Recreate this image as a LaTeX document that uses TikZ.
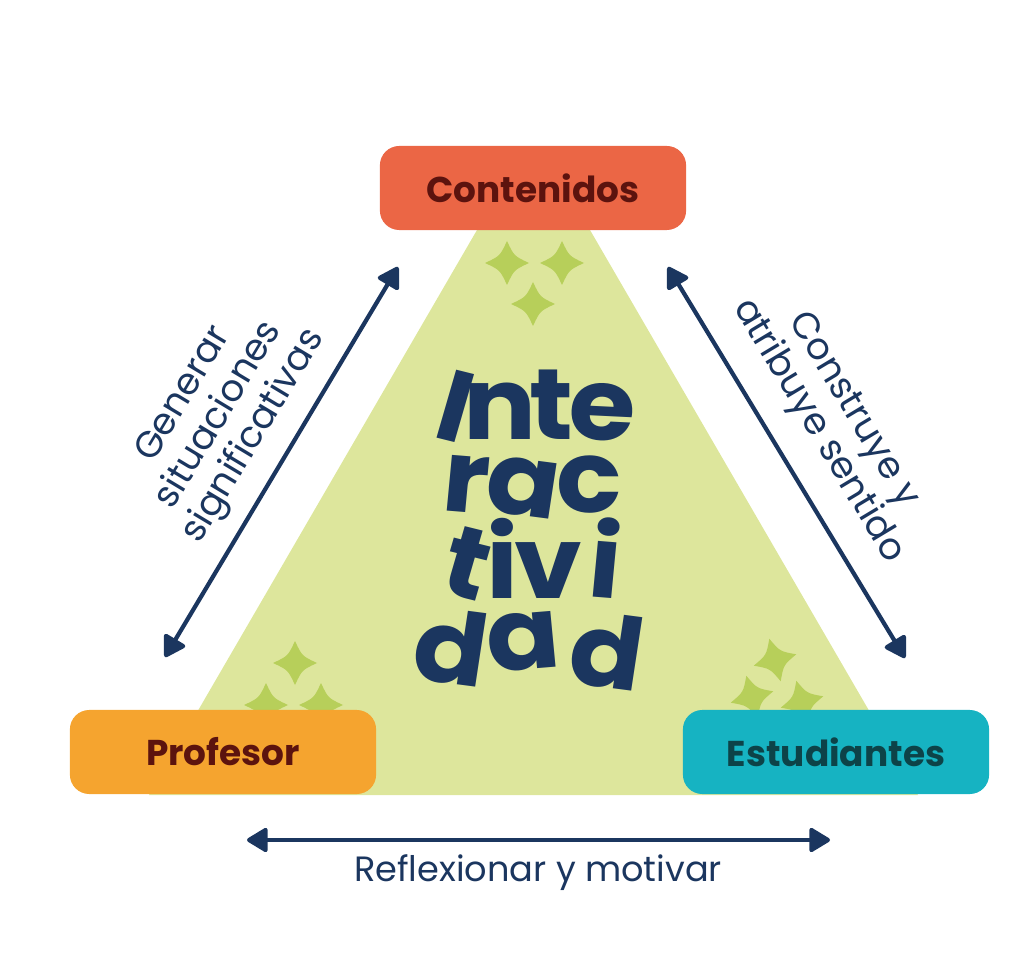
\documentclass[tikz,border=0pt]{standalone}
\usepackage{fontspec}
\setmainfont{Poppins}
\usetikzlibrary{arrows.meta}
\definecolor{trapColor}{HTML}{DDE69C}
\definecolor{starColor}{HTML}{B7CF5A}
\definecolor{contColor}{HTML}{EB6645}
\definecolor{profColor}{HTML}{F5A42F}
\definecolor{estColor}{HTML}{16B3C2}
\definecolor{redText}{HTML}{5C130E}
\definecolor{tealText}{HTML}{0D4348}
\definecolor{navyColor}{HTML}{1B365F}
\tikzset{sparkle/.pic={
  \fill[starColor] (0,-22) .. controls (7,-7) .. (22,0) .. controls (7,7) .. (0,22)
    .. controls (-7,7) .. (-22,0) .. controls (-7,-7) .. cycle;}}

\begin{document}
\begin{tikzpicture}[x=0.01cm, y=-0.01cm,
    box/.style={rounded corners=5.5pt, minimum width=3.06cm, minimum height=0.84cm,
      font=\bfseries\fontsize{10.2}{12}\selectfont},
    link/.style={draw=navyColor, line width=1.2pt,
      {Triangle[round, length=6.5pt, width=7.5pt]}-{Triangle[round, length=6.5pt, width=7.5pt]}},
    lbl/.style={text=navyColor, align=center, font=\fontsize{10.5}{11.6}\selectfont},
    letter/.style={text=navyColor, anchor=base, inner sep=0pt,
      xscale=1.08, transform shape, font=\bfseries\fontsize{28.5}{30}\selectfont}]
  \useasboundingbox (0,0) rectangle (1024,958);

  % green area
  \fill[trapColor] (477,230) -- (590,230) -- (918,795) -- (149,795) -- cycle;
  \pic at (507,263) {sparkle};
  \pic at (562,263) {sparkle};
  \pic at (533,304) {sparkle};
  \pic at (295,663) {sparkle};
  \pic at (266,705) {sparkle};
  \pic at (321,705) {sparkle};
  \pic[rotate=15] at (775,660) {sparkle};
  \pic[rotate=15] at (752,697) {sparkle};
  \pic[rotate=15] at (802,702) {sparkle};

  % boxes
  \node[box, fill=contColor, text=redText] (cont) at (533,188) {Contenidos};
  \node[box, fill=profColor, text=redText] (prof) at (223,752) {Profesor};
  \node[box, fill=estColor, text=tealText] (est) at (836,752) {Estudiantes};

  % arrows
  \coordinate (lb) at (165,657);
  \coordinate (lt) at (398,267);
  \coordinate (rt) at (668,267);
  \coordinate (rb) at (905,658);
  \coordinate (bl) at (247,840);
  \coordinate (br) at (830,840);
  \draw[link] (lb) -- (lt);
  \draw[link] (rt) -- (rb);
  \draw[link] (bl) -- (br);

  \node[lbl, rotate=59] (gen) at (220,416) {Generar\\situaciones\\significativas};
  \node[lbl, rotate=-59] (cons) at (835,421) {Construye y\\atribuye sentido};
  \node[lbl, font=\fontsize{10}{12}\selectfont] (refl) at (538,873) {Reflexionar y motivar};

  % Interactividad
  \node[letter, rotate=-15] (i1) at (446,440) {I};
  \node[letter] (i2) at (500,440) {n};
  \node[letter] (i3) at (551,440) {t};
  \node[letter, rotate=-3] (i4) at (601,440) {e};
  \node[letter, rotate=-5] (r1) at (464,512) {r};
  \node[letter, rotate=-8] (r2) at (519,515) {a};
  \node[letter] (r3) at (589,513) {c};
  \node[letter, rotate=-15] (t1) at (458,597) {t};
  \node[letter] (t2) at (502,598) {i};
  \node[letter] (t3) at (548,598) {v};
  \node[letter, rotate=-5] (t4) at (602,598) {i};
  \node[letter, rotate=-8] (d1) at (446,683) {d};
  \node[letter, rotate=5] (d2) at (526,670) {a};
  \node[letter, rotate=-8] (d3) at (602,687) {d};
\end{tikzpicture}
\end{document}
